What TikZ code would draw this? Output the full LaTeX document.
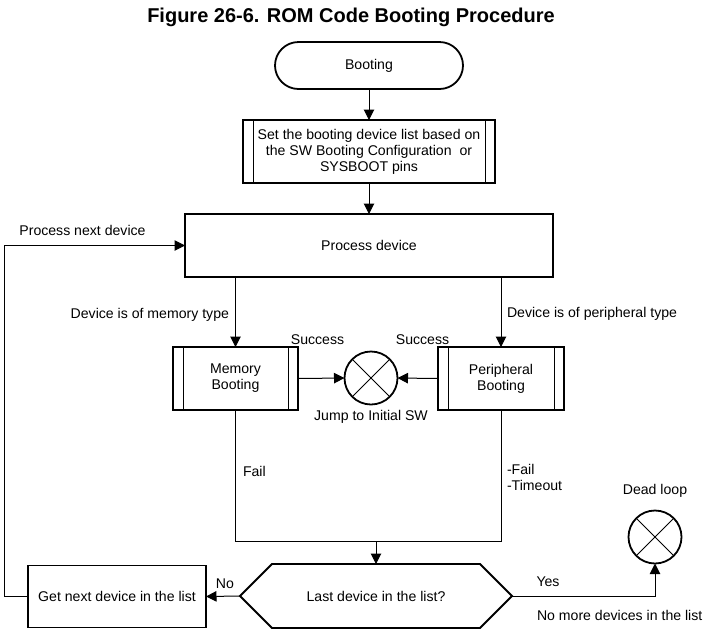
\documentclass[tikz,border=0pt]{standalone}
\usepackage{fontspec}
\setmainfont{Liberation Sans}
\usetikzlibrary{arrows.meta,shapes.misc,calc}
\begin{document}
\begin{tikzpicture}[x=1pt,y=-1pt,
  every node/.style={font=\fontsize{14.1}{16}\selectfont, inner sep=0pt, outer sep=0pt},
  box/.style={draw, line width=1.8pt, rectangle, align=center},
  term/.style={draw, line width=1.8pt, rounded rectangle, align=center},
  xcirc/.style={draw, line width=1.8pt, circle, minimum size=53pt},
  conn/.style={line width=1pt},
  arr/.style={line width=1pt, -{Triangle[length=10.5pt,width=10.5pt]}},
  thin/.style={line width=0.9pt},
  lbl/.style={align=center}
]
\useasboundingbox (0,0) rectangle (704,633);

% title
\node[font=\fontsize{20}{23}\selectfont\bfseries] (title) at (351,17) {Figure 26-6. ROM Code Booting Procedure};

% nodes
\node[term, minimum width=188pt, minimum height=47pt] (boot) at (369,65.5) {Booting};
\node[box, minimum width=252pt, minimum height=63pt] (set) at (369,151.5)
  {Set the booting device list based on\\the SW Booting Configuration \ or\\SYSBOOT pins};
\node[box, minimum width=368pt, minimum height=63pt] (proc) at (369,245.5) {Process device};
\node[box, minimum width=125pt, minimum height=63pt] (mem) at (235.5,378.5) {Memory\\Booting};
\node[box, minimum width=126pt, minimum height=63pt] (per) at (501,378.5) {Peripheral\\Booting};
\node[xcirc] (jump) at (371,378) {};
\node[xcirc] (dead) at (655,537) {};
\node[box, minimum width=178pt, minimum height=62pt] (next) at (117,596.5) {Get next device in the list};
\node[minimum width=272pt, minimum height=64pt] (hex) at (376,596) {Last device in the list?};

% predefined-process inner lines
\foreach \n in {set,mem,per}{
  \draw[thin] ($(\n.north west)+(10,0)$) -- ($(\n.south west)+(10,0)$);
  \draw[thin] ($(\n.north east)+(-10,0)$) -- ($(\n.south east)+(-10,0)$);
}
% crosses
\foreach \n in {jump,dead}{
  \draw[thin] (\n.north east) -- (\n.south west);
  \draw[thin] (\n.north west) -- (\n.south east);
}
% hexagon
\draw[line width=1.8pt, line join=miter] (hex.west) -- ($(hex.north west)+(32,0)$) -- ($(hex.north east)+(-32,0)$)
  -- (hex.east) -- ($(hex.south east)+(-32,0)$) -- ($(hex.south west)+(32,0)$) -- cycle;

% labels
\node (lmem) [anchor=east] at (229,315) {Device is of memory type};
\node (lper) [anchor=west] at (507,313.5) {Device is of peripheral type};
\node (s1) at (317.5,340) {Success};
\node (s2) at (422.5,340) {Success};
\node (ljump) at (371,417) {Jump to Initial SW};
\node (lfail) [anchor=west] at (243,471) {Fail};
\node (lfail2) [anchor=north west, align=left] at (507,464.5) {-Fail\\-Timeout};
\node (ldead) at (655,491) {Dead loop};
\node (lyes) at (548,582) {Yes};
\node (lnomore) [anchor=west] at (537,615.5) {No more devices in the list};
\node (lno) at (225,584) {No};
\node (lpnd) at (82.5,230) {Process next device};

% connectors
\draw[arr] (boot.south) -- (set.north);
\draw[arr] (set.south) -- (proc.north);
\draw[arr] (proc.south -| mem.north) -- (mem.north);
\draw[arr] (proc.south -| per.north) -- (per.north);
\draw[arr] (mem.east) -- (jump.west);
\draw[arr] (per.west) -- (jump.east);
\coordinate (j) at (376,541);
\draw[conn] (mem.south) |- (j);
\draw[conn] (per.south) |- (j);
\draw[arr] (j) -- (hex.north);
\draw[arr] (hex.west) -- (next.east);
\coordinate (lp) at (4,596.5);
\draw[arr] (next.west) -- (lp) |- (proc.west);
\draw[arr] (hex.east) -| (dead.south);
\end{tikzpicture}
\end{document}
